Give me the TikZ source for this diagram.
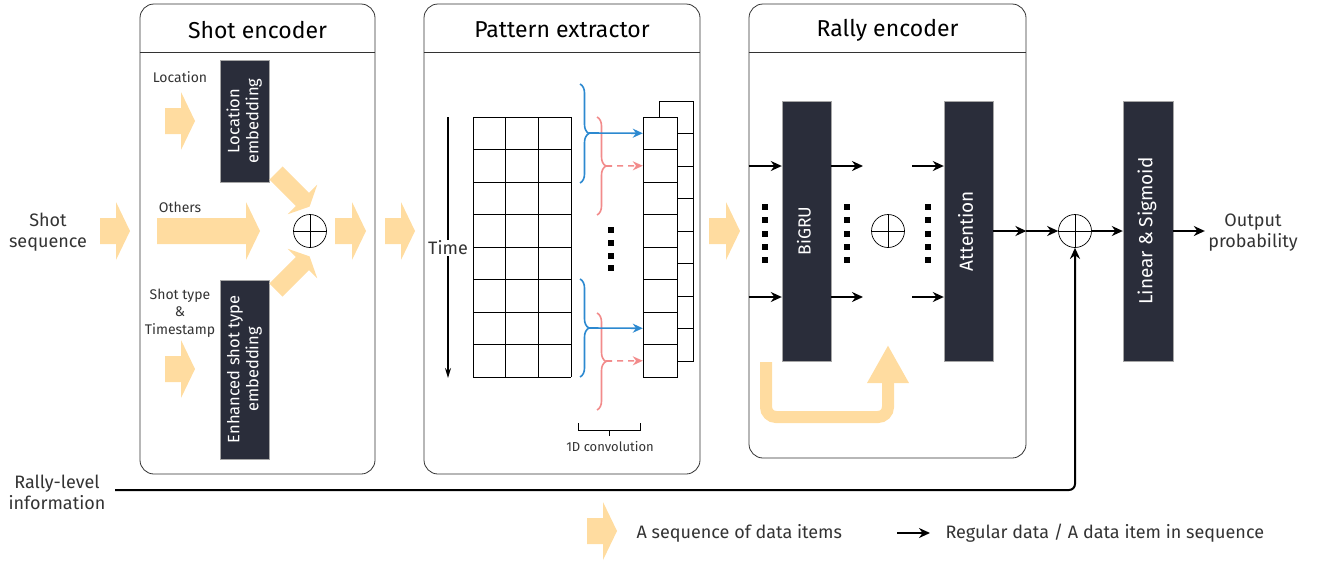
\documentclass[tikz,border=0pt]{standalone}
\usepackage{fontspec}
\usepackage{graphicx}
\setmainfont{Fira Sans}
\usetikzlibrary{arrows.meta,decorations.pathreplacing,positioning}

\definecolor{seqyellow}{HTML}{FFDCA0}
\definecolor{boxdark}{HTML}{2A2D3A}
\definecolor{convblue}{HTML}{2C89D0}
\definecolor{convpink}{HTML}{F28B8B}
\definecolor{txtgray}{HTML}{333333}

\newcommand{\vtext}[1]{\rotatebox{90}{\begin{tabular}{@{}c@{}}#1\end{tabular}}}

\tikzset{
  panel/.style={draw=black!80, rounded corners=14pt, line width=0.8pt},
  title/.style={font=\fontsize{23}{26}\selectfont},
  darkbox/.style={fill=boxdark, draw=gray!70, text=white, minimum width=49pt,
    font=\fontsize{16.5}{19}\selectfont},
  bigtext/.style={font=\fontsize{19}{22}\selectfont},
  small/.style={font=\fontsize{13}{15}\selectfont, align=center, text=txtgray},
  label/.style={font=\fontsize{18}{21}\selectfont, align=center, text=txtgray},
  sumnode/.style={circle, draw, line width=0.7pt, minimum size=33pt, inner sep=0pt,
    path picture={\draw (path picture bounding box.north) -- (path picture bounding box.south)
      (path picture bounding box.west) -- (path picture bounding box.east);}},
  reg/.style={line width=2pt, -{Stealth[length=11pt,width=10pt]}},
  cell/.style={draw, fill=white, minimum width=34pt, minimum height=32.5pt, inner sep=0pt},
  pics/fatarrow/.style={code={
    \fill[seqyellow] (0,-13) -- (#1-14,-13) -- (#1-14,-29) -- (#1,0)
      -- (#1-14,29) -- (#1-14,13) -- (0,13) -- cycle;
  }}
}

\begin{document}
\begin{tikzpicture}[x=1pt, y=-1pt]
\useasboundingbox (0,0) rectangle (1320,563);

% Panels
\node[panel, minimum width=235pt, minimum height=470pt] (shotenc) at (257.5,239) {};
\node[panel, minimum width=276pt, minimum height=470pt] (patext) at (562,239) {};
\node[panel, minimum width=277pt, minimum height=454pt] (rallyenc) at (887.5,231) {};
\foreach \p in {shotenc,patext,rallyenc}
  \draw[black!80, line width=0.8pt] (\p.west |- 0,52) -- (\p.east |- 0,52);
\node[title] at (257.5,30) {Shot encoder};
\node[title] at (562,30) {Pattern extractor};
\node[title] at (887.5,30) {Rally encoder};

% Input
\node[label] (shotseq) at (48,232) {Shot\\sequence};
\pic at (100,231) {fatarrow=30};

% Shot encoder
\node[small, font=\fontsize{14}{16}\selectfont] at (180,77) {Location};
\node[small, font=\fontsize{14}{16}\selectfont] at (180,207) {Others};
\node[small, font=\fontsize{14}{17.5}\selectfont] at (180,313) {Shot type\\\&\\Timestamp};
\pic at (165,121) {fatarrow=30};
\pic at (157,231) {fatarrow=103};
\pic at (165,369) {fatarrow=30};
\node[darkbox, minimum height=122pt] (locemb) at (245,121) {\vtext{Location\\embedding}};
\node[darkbox, minimum height=179pt] (typeemb) at (245,369.5) {\vtext{Enhanced shot type\\embedding}};
\node[sumnode] (shotsum) at (310,231) {};
\pic[rotate=-45, scale=0.72] at (276,173) {fatarrow=66};
\pic[rotate=45, scale=0.72] at (276,290) {fatarrow=66};
\pic at (335,231) {fatarrow=31};

\pic at (385,231) {fatarrow=30};

% Pattern extractor
\draw[line width=1.4pt, -{Stealth[length=10pt,width=6pt]}] (448,117) -- (448,378);
\node[label, fill=white, inner sep=1pt] (time) at (448,248) {Time};
\foreach \i in {0,...,3}
  \draw (473+32.67*\i,117) -- (473+32.67*\i,377);
\foreach \j in {0,...,8}
  \draw (473,117+32.5*\j) -- (571,117+32.5*\j);
\foreach \j in {1,...,8}
  \node[cell] (k\j) at (676.5,101+32.5*\j-16.25) {};
\foreach \j in {1,...,8}
  \node[cell] (o\j) at (660,117+32.5*\j-16.25) {};

\draw[convblue, line width=1.6pt, decorate, decoration={brace, amplitude=9pt}] (580,84) -- (580,183);
\draw[convpink, line width=1.6pt, decorate, decoration={brace, amplitude=9pt}] (597,117) -- (597,215);
\draw[convblue, line width=1.6pt, decorate, decoration={brace, amplitude=9pt}] (580,279) -- (580,377);
\draw[convpink, line width=1.6pt, decorate, decoration={brace, amplitude=9pt}] (597,313) -- (597,410);
\coordinate (bb1) at (589,133);
\coordinate (bp1) at (606,166);
\coordinate (bb2) at (589,328);
\coordinate (bp2) at (606,361);
\draw[convblue, line width=1.6pt, -{Stealth[length=10pt,width=9pt]}] (bb1) -- (o1.west);
\draw[convblue, line width=1.6pt, -{Stealth[length=10pt,width=9pt]}] (bb2) -- (o7.west);
\draw[convpink, line width=1.6pt, dash pattern=on 6pt off 5pt, -{Stealth[length=10pt,width=9pt]}] (bp1) -- (o2.west);
\draw[convpink, line width=1.6pt, dash pattern=on 6pt off 5pt, -{Stealth[length=10pt,width=9pt]}] (bp2) -- (o8.west);
\foreach \k in {0,...,3}
  \fill (608,227+12.8*\k) rectangle ++(6,6);

\draw[line width=1pt] (578,423) -- (578,430) -- (640,430) -- (640,423);
\draw[line width=1pt] (609,430) -- (609,436);
\node[small] (conv) at (610,446) {1D convolution};

\pic at (709,231) {fatarrow=31};

% Rally encoder
\node[darkbox, minimum height=260pt, font=\fontsize{17.5}{20}\selectfont] (gru) at (806.5,231) {\vtext{BiGRU}};
\node[darkbox, bigtext, minimum height=260pt] (att) at (968.5,231) {\vtext{Attention}};
\node[sumnode] (rallysum) at (888,231) {};
\foreach \yy in {166,297} {
  \draw[reg] (rallyenc.west |- 0,\yy) -- (gru.west |- 0,\yy);
  \draw[reg] (gru.east |- 0,\yy) -- (863,\yy);
  \draw[reg] (912,\yy) -- (att.west |- 0,\yy);
}
\foreach \xx in {765,847,928}
  \foreach \k in {0,...,4}
    \fill (\xx-3,204+13.3*\k) rectangle ++(6,6);
\draw[seqyellow, line width=12pt, rounded corners=10pt,
  -{Triangle[length=38pt,width=39pt]}] (766,362) -- (766,417) -- (888,417) -- (888,345);

% Output
\node[sumnode] (outsum) at (1075,231) {};
\node[darkbox, bigtext, minimum width=50pt, minimum height=260pt] (lin) at (1148,231) {\vtext{Linear \& Sigmoid}};
\draw[reg] (att) -- (att -| rallyenc.east);
\draw[reg] (att -| rallyenc.east) -- (outsum);
\draw[reg] (outsum) -- (lin);
\node[label] (outtxt) at (1253,233) {Output\\probability};
\draw[reg] (lin) -- (lin -| outtxt.west);

\node[label] (rli) at (57,492) {Rally-level\\information};
\coordinate (rl) at (115,490);
\draw[reg, rounded corners=6pt] (rl) -- (rl -| outsum) -- (outsum.south);

% Legend
\pic at (587,531) {fatarrow=30};
\node[label, anchor=west] (lgseq) at (633,533) {A sequence of data items};
\coordinate (lgreg) at (897,533);
\draw[reg] (lgreg) -- ++(33,0);
\node[label, anchor=west] (lgtxt) at (942,533) {Regular data / A data item in sequence};

\end{tikzpicture}
\end{document}
